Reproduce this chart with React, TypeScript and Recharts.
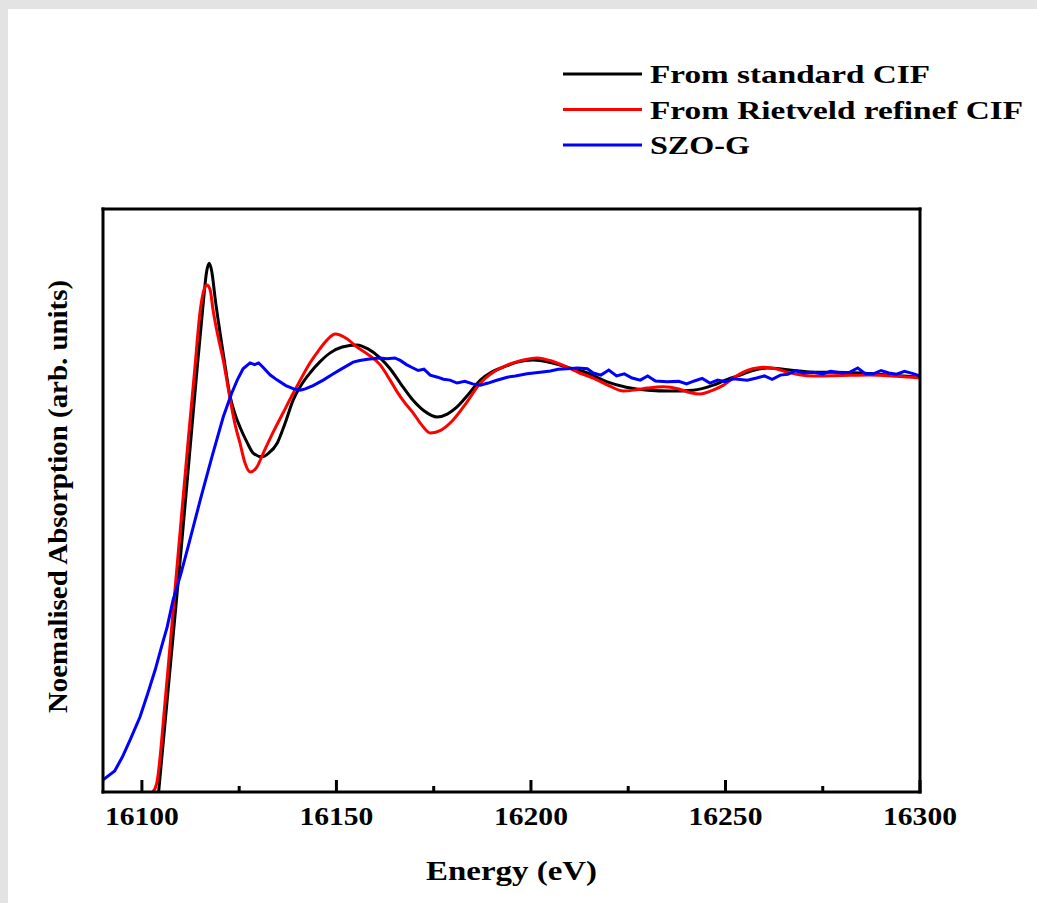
import { LineChart, Line, XAxis, YAxis, Legend } from "recharts"

// energy axis (eV)
const xTicks = [16100, 16125, 16150, 16175, 16200, 16225, 16250, 16275, 16300]
const majorTicks = [16100, 16150, 16200, 16250, 16300]

// From standard CIF
const stdEnergy = [
  16104.3, 16106, 16108, 16110, 16112, 16114, 16115.7, 16116.6, 16117.3, 16118,
  16118.8, 16120.1, 16121.5, 16122.7, 16124, 16125.2, 16127, 16128.6, 16130.9, 16132.5,
  16134.8, 16136.8, 16138.9, 16141, 16143.2, 16145.8, 16148.4, 16151.5, 16155.3, 16158,
  16161.2, 16163.8, 16166.4, 16169.7, 16172.5, 16175.9, 16178.5, 16181, 16184, 16187,
  16190, 16192.9, 16196.5, 16200.6, 16205, 16209.3, 16214.5, 16219.6, 16224.5, 16230,
  16236, 16241.7, 16246.9, 16250.5, 16253.8, 16257, 16260.8, 16266, 16272.6, 16278,
  16284.7, 16292, 16300,
]
const stdAbs = [
  0, 0.17, 0.37, 0.57, 0.78, 0.99, 1.16, 1.24, 1.262, 1.24,
  1.18, 1.095, 1.01, 0.943, 0.9, 0.871, 0.835, 0.809, 0.8, 0.808,
  0.833, 0.88, 0.936, 0.972, 1.0, 1.027, 1.048, 1.062, 1.067, 1.058,
  1.036, 1.01, 0.976, 0.935, 0.91, 0.895, 0.902, 0.919, 0.95, 0.983,
  1.003, 1.014, 1.026, 1.031, 1.025, 1.014, 1.0, 0.979, 0.966, 0.959,
  0.957, 0.959, 0.971, 0.985, 0.995, 1.006, 1.012, 1.008, 1.002, 1.002,
  1.0, 0.995, 0.99,
]

// From Rietveld refinef CIF
const rietEnergy = [
  16102.8, 16103.8, 16106, 16108, 16110, 16112, 16113.5, 16115, 16116, 16116.7,
  16117.5, 16118.3, 16119.5, 16120.9, 16122.7, 16124, 16125.2, 16126.5, 16127.8, 16129.5,
  16131.2, 16133.8, 16136.3, 16138.5, 16140.7, 16142.8, 16145, 16147.5, 16149.7, 16152.5,
  16155.3, 16158, 16161.2, 16163.8, 16165.6, 16167.5, 16169.7, 16172, 16174.1, 16176.5,
  16180, 16183.5, 16187, 16190.5, 16193.9, 16197.5, 16201.6, 16205.5, 16209.3, 16212.5,
  16216, 16220, 16223.7, 16227, 16230, 16234, 16238, 16241, 16243.5, 16246.5,
  16249.5, 16252, 16254.6, 16257, 16259.8, 16263, 16265.9, 16269, 16272.6, 16280,
  16287, 16294, 16300,
]
const rietAbs = [
  0, 0.02, 0.22, 0.43, 0.64, 0.85, 1.0, 1.15, 1.2, 1.21,
  1.2, 1.15, 1.09, 1.031, 0.936, 0.875, 0.833, 0.785, 0.764, 0.775,
  0.809, 0.86, 0.905, 0.945, 0.983, 1.018, 1.048, 1.078, 1.093, 1.083,
  1.062, 1.045, 1.02, 0.983, 0.955, 0.93, 0.905, 0.875, 0.857, 0.862,
  0.888, 0.93, 0.976, 1.003, 1.019, 1.03, 1.036, 1.028, 1.014, 1.0,
  0.988, 0.97, 0.957, 0.96, 0.964, 0.967, 0.962, 0.953, 0.95, 0.958,
  0.971, 0.988, 1.002, 1.01, 1.014, 1.01, 1.002, 0.996, 0.993, 0.994,
  0.995, 0.992, 0.988,
]

// SZO-G
const szoEnergy = [
  16090, 16093, 16095, 16097, 16099.5, 16101.5, 16103.4, 16105, 16106.5, 16108,
  16110, 16112, 16115, 16118, 16120.9, 16123, 16124.5, 16126, 16127.8, 16129,
  16130, 16131, 16133, 16134.8, 16137, 16139, 16140.7, 16142, 16144, 16146.6,
  16149, 16151, 16154.3, 16156, 16158, 16161.2, 16163, 16165, 16166.4, 16168,
  16169.7, 16171, 16172.5, 16174.1, 16176, 16177.5, 16179.2, 16181, 16183, 16185,
  16187, 16189, 16191, 16193.9, 16196, 16199, 16202.4, 16205, 16207, 16209.3,
  16212, 16214.5, 16216, 16218, 16220, 16222, 16224, 16226, 16228.1, 16230,
  16232, 16235, 16238, 16240, 16242, 16244, 16246, 16248, 16250, 16252,
  16255.6, 16258, 16260, 16262, 16264.1, 16266, 16268, 16270, 16272.6, 16275,
  16277, 16280, 16282, 16284, 16286, 16288, 16290, 16292, 16294, 16296,
  16298, 16300,
]
const szoAbs = [
  0.029, 0.05, 0.084, 0.125, 0.179, 0.235, 0.291, 0.345, 0.394, 0.458,
  0.52, 0.59, 0.697, 0.8, 0.895, 0.95, 0.983, 1.01, 1.024, 1.02,
  1.024, 1.015, 0.995, 0.983, 0.97, 0.962, 0.959, 0.962, 0.97, 0.983,
  0.997, 1.008, 1.026, 1.03, 1.033, 1.036, 1.034, 1.036, 1.03, 1.02,
  1.012, 1.006, 1.009, 0.995, 0.99, 0.985, 0.983, 0.976, 0.98, 0.974,
  0.971, 0.976, 0.982, 0.99, 0.993, 0.998, 1.002, 1.005, 1.009, 1.01,
  1.012, 1.01, 1.0, 0.995, 1.007, 0.993, 0.998, 0.988, 0.983, 0.993,
  0.981, 0.979, 0.98, 0.974, 0.981, 0.987, 0.976, 0.983, 0.979, 0.986,
  0.983, 0.988, 0.993, 0.985, 0.995, 0.997, 1.005, 1.0, 1.002, 0.998,
  1.004, 1.0, 1.002, 1.012, 0.998, 0.998, 1.006, 1.0, 0.997, 1.004,
  0.999, 0.993,
]

const seriesNames = ["From standard CIF", "From Rietveld refinef CIF", "SZO-G"]

const toPoints = (xs: number[], ys: number[]) => xs.map((e, i) => ({ e, a: ys[i] }))

const font = "'Liberation Serif', 'Times New Roman', serif"
const legendWidths = [280, 373, 100]

function EnergyTick(props: any) {
  const { x, y, payload } = props
  const major = majorTicks.includes(payload.value)
  return (
    <g>
      <line x1={x} x2={x} y1={y} y2={y - (major ? 12 : 6)} stroke="#000" strokeWidth={3} />
      {major && (
        <text
          x={x}
          y={y + 33}
          textAnchor="middle"
          fontFamily={font}
          fontWeight="bold"
          fontSize={25}
          textLength={74}
          lengthAdjust="spacingAndGlyphs"
          fill="#000"
        >
          {payload.value}
        </text>
      )}
    </g>
  )
}

function renderLegend(props: any) {
  const { payload = [] } = props
  return (
    <svg width={1037} height={180} style={{ display: "block" }}>
      {payload.map((entry: any) => {
        const i = seriesNames.indexOf(entry.value)
        return (
          <g key={entry.value}>
            <line x1={563} x2={642} y1={74 + i * 35.5} y2={74 + i * 35.5} stroke={entry.color} strokeWidth={3} />
            <text
              x={650}
              y={83 + i * 35.5}
              fontFamily={font}
              fontWeight="bold"
              fontSize={26}
              textLength={legendWidths[i]}
              lengthAdjust="spacingAndGlyphs"
              fill="#000"
            >
              {entry.value}
            </text>
          </g>
        )
      })}
    </svg>
  )
}

const frame = { stroke: "#000", strokeWidth: 3, strokeLinecap: "square" as const }

export default function App() {
  return (
    <div style={{ position: "absolute", left: 0, top: 0, width: 1037, height: 903, background: "#e3e3e3" }}>
      <div style={{ position: "absolute", left: 8, top: 9, right: 0, bottom: 0, background: "#fff" }} />
      <div style={{ position: "absolute", left: 0, top: 0 }}>
        <LineChart width={1037} height={903} margin={{ top: 208, right: 116, bottom: 11, left: 102 }}>
          <XAxis
            dataKey="e"
            type="number"
            domain={[16090, 16300]}
            ticks={xTicks}
            interval={0}
            height={100}
            tickSize={0}
            tickMargin={0}
            tickLine={false}
            axisLine={frame}
            tick={<EnergyTick />}
            label={{
              content: (p: any) => (
                <text
                  x={p.viewBox.x + p.viewBox.width / 2}
                  y={p.viewBox.y + 88}
                  textAnchor="middle"
                  fontFamily={font}
                  fontWeight="bold"
                  fontSize={28}
                  textLength={171}
                  lengthAdjust="spacingAndGlyphs"
                  fill="#000"
                >
                  Energy (eV)
                </text>
              ),
            }}
          />
          <XAxis
            xAxisId="top"
            orientation="top"
            dataKey="e"
            type="number"
            domain={[16090, 16300]}
            height={1}
            tick={false}
            tickLine={false}
            axisLine={frame}
          />
          <YAxis
            type="number"
            domain={[0, 1.3914]}
            width={1}
            tick={false}
            tickLine={false}
            axisLine={frame}
            label={{
              content: (p: any) => {
                const cx = p.viewBox.x + p.viewBox.width - 36
                const cy = p.viewBox.y + p.viewBox.height / 2 - 4
                return (
                  <text
                    x={cx}
                    y={cy}
                    transform={`rotate(-90, ${cx}, ${cy})`}
                    textAnchor="middle"
                    fontFamily={font}
                    fontWeight="bold"
                    fontSize={27}
                    textLength={433}
                    lengthAdjust="spacingAndGlyphs"
                    fill="#000"
                  >
                    Noemalised Absorption (arb. units)
                  </text>
                )
              },
            }}
          />
          <YAxis
            yAxisId="right"
            orientation="right"
            type="number"
            domain={[0, 1.3914]}
            width={1}
            tick={false}
            tickLine={false}
            axisLine={frame}
          />
          <Legend
            layout="horizontal"
            verticalAlign="middle"
            align="center"
            wrapperStyle={{ left: 0, top: 0, width: 1037, height: 180 }}
            content={renderLegend}
          />
          <Line
            data={toPoints(stdEnergy, stdAbs)}
            dataKey="a"
            name={seriesNames[0]}
            type="monotone"
            stroke="#000000"
            strokeWidth={3}
            dot={false}
            isAnimationActive={false}
          />
          <Line
            data={toPoints(rietEnergy, rietAbs)}
            dataKey="a"
            name={seriesNames[1]}
            type="monotone"
            stroke="#ff0000"
            strokeWidth={3}
            dot={false}
            isAnimationActive={false}
          />
          <Line
            data={toPoints(szoEnergy, szoAbs)}
            dataKey="a"
            name={seriesNames[2]}
            type="linear"
            stroke="#0000ff"
            strokeWidth={3}
            dot={false}
            isAnimationActive={false}
          />
        </LineChart>
      </div>
    </div>
  )
}
